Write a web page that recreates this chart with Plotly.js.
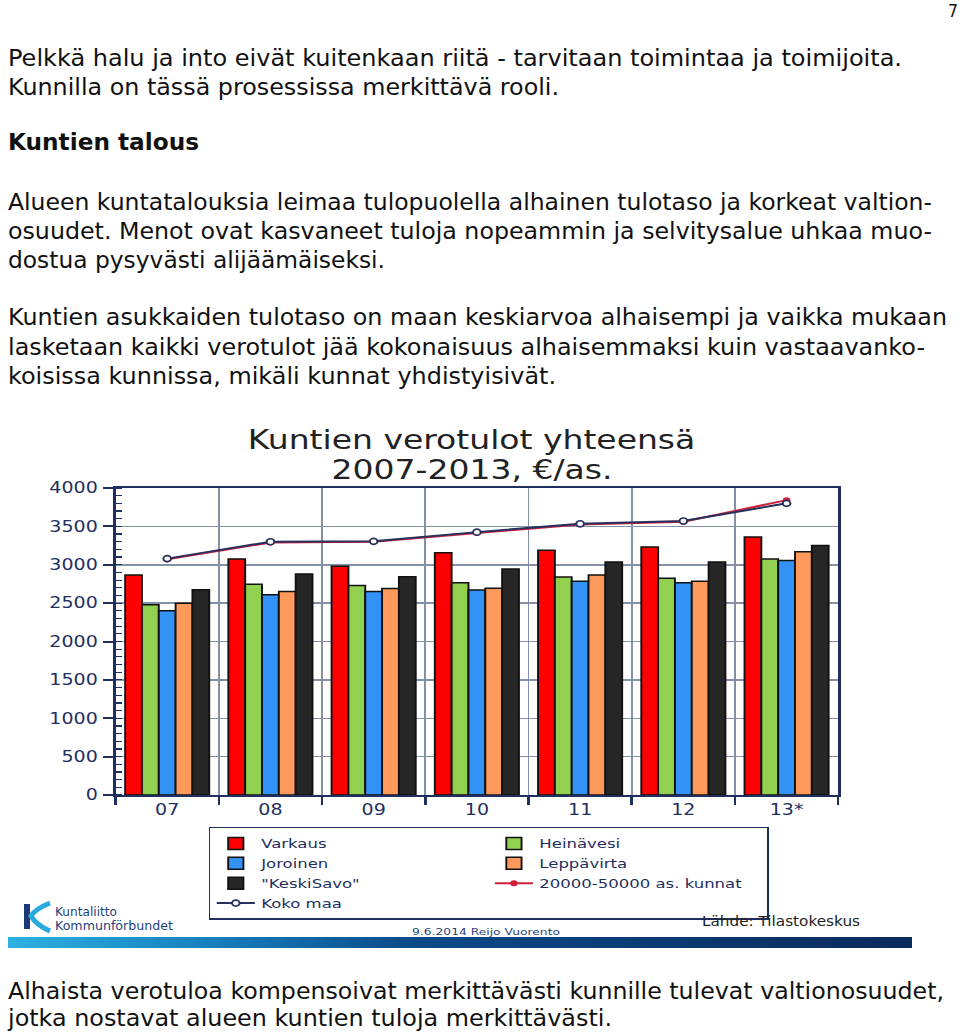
<!DOCTYPE html>
<html>
<head>
<meta charset="utf-8">
<script src="https://cdn.plot.ly/plotly-3.0.1.min.js"></script>
<style>
  html, body { margin: 0; padding: 0; background: #fff; }
  #page { position: relative; width: 960px; height: 1035px; overflow: hidden; background: #fff; }
  #chart { position: absolute; left: 0; top: 415px; width: 756px; height: 540px; transform: scaleX(1.27); transform-origin: 0 0; }
  #overlay { position: absolute; left: 0; top: 0; pointer-events: none; }
  #overlay text { font-family: "DejaVu Sans", Verdana, sans-serif; }
</style>
</head>
<body>
<div id="page">
  <div id="chart"></div>
  <svg id="overlay" width="960" height="1035" xmlns="http://www.w3.org/2000/svg">
    <defs>
      <linearGradient id="band" x1="0" y1="0" x2="1" y2="0">
        <stop offset="0" stop-color="#2fb0e0"/>
        <stop offset="0.22" stop-color="#1680bd"/>
        <stop offset="0.45" stop-color="#0b4a88"/>
        <stop offset="1" stop-color="#0b2a5c"/>
      </linearGradient>
    </defs>
    <text x="948" y="17" font-size="17" fill="#111" textLength="10" lengthAdjust="spacingAndGlyphs">7</text>
    <text x="8" y="66" font-size="23.5" fill="#111" textLength="894" lengthAdjust="spacingAndGlyphs">Pelkkä halu ja into eivät kuitenkaan riitä - tarvitaan toimintaa ja toimijoita.</text>
    <text x="8" y="94.5" font-size="23.5" fill="#111" textLength="551" lengthAdjust="spacingAndGlyphs">Kunnilla on tässä prosessissa merkittävä rooli.</text>
    <text x="8" y="150" font-size="23.5" font-weight="bold" fill="#111" textLength="191" lengthAdjust="spacingAndGlyphs">Kuntien talous</text>
    <text x="8" y="210" font-size="23.5" fill="#111" textLength="924" lengthAdjust="spacingAndGlyphs">Alueen kuntatalouksia leimaa tulopuolella alhainen tulotaso ja korkeat valtion-</text>
    <text x="8" y="239" font-size="23.5" fill="#111" textLength="924" lengthAdjust="spacingAndGlyphs">osuudet. Menot ovat kasvaneet tuloja nopeammin ja selvitysalue uhkaa muo-</text>
    <text x="8" y="268" font-size="23.5" fill="#111" textLength="377" lengthAdjust="spacingAndGlyphs">dostua pysyvästi alijäämäiseksi.</text>
    <text x="8" y="325" font-size="23.5" fill="#111" textLength="939" lengthAdjust="spacingAndGlyphs">Kuntien asukkaiden tulotaso on maan keskiarvoa alhaisempi ja vaikka mukaan</text>
    <text x="8" y="355" font-size="23.5" fill="#111" textLength="917" lengthAdjust="spacingAndGlyphs">lasketaan kaikki verotulot jää kokonaisuus alhaisemmaksi kuin vastaavanko-</text>
    <text x="8" y="384" font-size="23.5" fill="#111" textLength="548" lengthAdjust="spacingAndGlyphs">koisissa kunnissa, mikäli kunnat yhdistyisivät.</text>
    <text x="8" y="998.5" font-size="23.5" fill="#111" textLength="936" lengthAdjust="spacingAndGlyphs">Alhaista verotuloa kompensoivat merkittävästi kunnille tulevat valtionosuudet,</text>
    <text x="8" y="1026" font-size="23.5" fill="#111" textLength="604" lengthAdjust="spacingAndGlyphs">jotka nostavat alueen kuntien tuloja merkittävästi.</text>

    <!-- logo -->
    <rect x="24" y="904" width="6" height="25" fill="#1b3a75"/>
    <path d="M50,903 Q35,909 31,916 Q36,925 50,931" stroke="#2aa9dc" stroke-width="5" fill="none"/>
    <text x="55" y="916" font-size="12.5" fill="#1f3f7a" textLength="62" lengthAdjust="spacingAndGlyphs">Kuntaliitto</text>
    <text x="55" y="930" font-size="12.5" fill="#1f3f7a" textLength="118" lengthAdjust="spacingAndGlyphs">Kommunförbundet</text>
    <text x="412" y="935" font-size="9" fill="#1f3f7a" textLength="148" lengthAdjust="spacingAndGlyphs">9.6.2014  Reijo Vuorento</text>
    <text x="702" y="926" font-size="13.5" fill="#222" textLength="158" lengthAdjust="spacingAndGlyphs">Lähde: Tilastokeskus</text>
    <rect x="8" y="937" width="904" height="11" fill="url(#band)"/>
  </svg>
</div>
<script>
const years = ['07', '08', '09', '10', '11', '12', '13*'];
const varkaus    = [2865, 3075, 2980, 3155, 3190, 3230, 3360];
const heinavesi  = [2480, 2745, 2730, 2765, 2840, 2825, 3075];
const joroinen   = [2400, 2610, 2650, 2670, 2785, 2765, 3055];
const leppavirta = [2500, 2650, 2690, 2695, 2865, 2785, 3170];
const keskisavo  = [2675, 2880, 2845, 2945, 3035, 3035, 3250];
const kunnat2050 = [3070, 3290, 3300, 3415, 3525, 3560, 3842];
const kokoMaa    = [3080, 3300, 3305, 3425, 3535, 3570, 3800];
const yTicks = [0, 500, 1000, 1500, 2000, 2500, 3000, 3500, 4000];
const titleLines = ['Kuntien verotulot yhteensä', '2007-2013, €/as.'];

const navy = '#1f2f5f';
const gridCol = '#8390a6';
const outline = {color: '#111111', width: 1.5};

function bar(name, vals, color) {
  return {type: 'bar', name: name, x: years, y: vals,
          marker: {color: color, line: outline}, hoverinfo: 'skip'};
}

const data = [
  bar('Varkaus', varkaus, '#ff0000'),
  bar('Heinävesi', heinavesi, '#92d050'),
  bar('Joroinen', joroinen, '#3392f5'),
  bar('Leppävirta', leppavirta, '#ff9a5c'),
  bar('"KeskiSavo"', keskisavo, '#262626'),
  {type: 'scatter', mode: 'lines+markers', name: '20000-50000 as. kunnat',
   x: years, y: kunnat2050, line: {color: '#d0203a', width: 2},
   marker: {color: '#d0203a', size: 6}, hoverinfo: 'skip'},
  {type: 'scatter', mode: 'lines+markers', name: 'Koko maa',
   x: years, y: kokoMaa, line: {color: '#27305c', width: 2},
   marker: {color: '#ffffff', size: 6, line: {color: '#27305c', width: 1.6}}, hoverinfo: 'skip'}
];

const layout = {
  width: 756, height: 540,
  margin: {l: 90.55, r: 96.2, t: 73, b: 160, pad: 0},
  paper_bgcolor: 'rgba(0,0,0,0)',
  plot_bgcolor: '#ffffff',
  font: {family: '"DejaVu Sans", Verdana, sans-serif', color: navy, size: 15},
  annotations: [
    {text: titleLines[0], xref: 'paper', yref: 'paper', x: 0.4924, y: 1.1564,
     xanchor: 'center', yanchor: 'middle', showarrow: false, font: {size: 26, color: '#222222'}},
    {text: titleLines[1], xref: 'paper', yref: 'paper', x: 0.4924, y: 1.0586,
     xanchor: 'center', yanchor: 'middle', showarrow: false, font: {size: 26, color: '#222222'}}
  ],
  barmode: 'group',
  bargap: 0.185,
  bargroupgap: 0,
  showlegend: true,
  legend: {orientation: 'h', x: 0.1286, xanchor: 'left', y: -0.104, yanchor: 'top',
           entrywidth: 174, entrywidthmode: 'pixels', itemwidth: 30,
           bgcolor: '#ffffff', bordercolor: navy, borderwidth: 1.5,
           font: {size: 13, color: navy}, traceorder: 'normal'},
  xaxis: {type: 'category', tickson: 'boundaries', ticks: 'outside', ticklen: 8, tickwidth: 2,
          tickcolor: navy, showline: true, linecolor: navy, linewidth: 2, mirror: true,
          showgrid: true, gridcolor: gridCol, gridwidth: 1.5,
          tickfont: {size: 15, color: navy}, fixedrange: true},
  yaxis: {range: [0, 4000], tickvals: yTicks, ticktext: yTicks.map(String),
          ticks: 'outside', ticklen: 8, tickwidth: 2, tickcolor: navy,
          minor: {dtick: 100, tick0: 0, ticks: 'inside', ticklen: 5, tickwidth: 1.2, tickcolor: navy, showgrid: false},
          showline: true, linecolor: navy, linewidth: 2, mirror: true,
          showgrid: true, gridcolor: gridCol, gridwidth: 1.5, zeroline: false,
          ticklabelstandoff: 1,
          tickfont: {size: 15, color: navy}, fixedrange: true}
};

Plotly.newPlot('chart', data, layout, {displayModeBar: false, staticPlot: true});
</script>
</body>
</html>
